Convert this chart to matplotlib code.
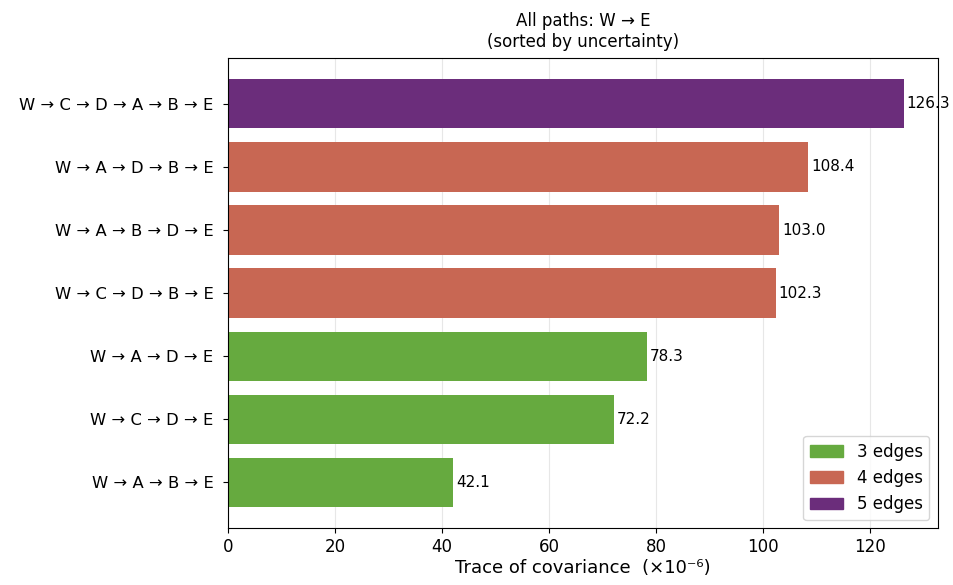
import matplotlib.pyplot as plt
from matplotlib.patches import Patch

paths = ['W → A → B → E', 'W → C → D → E', 'W → A → D → E',
         'W → C → D → B → E', 'W → A → B → D → E', 'W → A → D → B → E',
         'W → C → D → A → B → E']
traces = [42.1, 72.2, 78.3, 102.3, 103.0, 108.4, 126.3]
edges = [3, 3, 3, 4, 4, 4, 5]

edge_colors = {3: '#66aa3f', 4: '#c86753', 5: '#6b2d7b'}

fig, ax = plt.subplots(figsize=(9.54, 5.85), dpi=100)
fig.subplots_adjust(left=0.239, right=0.983, top=0.901, bottom=0.097)

bars = ax.barh(paths, traces, height=0.78,
               color=[edge_colors[e] for e in edges])
ax.bar_label(bars, fmt='%.1f', padding=2, fontsize=11)

ax.set_xlim(0, max(traces) * 1.05)
ax.grid(axis='x', alpha=0.3)
ax.set_axisbelow(True)

ax.set_title('All paths: W → E\n(sorted by uncertainty)', fontsize=12, pad=8)
ax.set_xlabel('Trace of covariance  (×10⁻⁶)', fontsize=13, labelpad=2)
ax.tick_params(axis='x', labelsize=12)
ax.tick_params(axis='y', labelsize=11.8, pad=7)

handles = [Patch(color=edge_colors[k], label=f'{k} edges') for k in (3, 4, 5)]
ax.legend(handles=handles, loc='lower right', fontsize=12)

plt.savefig('out.png')
